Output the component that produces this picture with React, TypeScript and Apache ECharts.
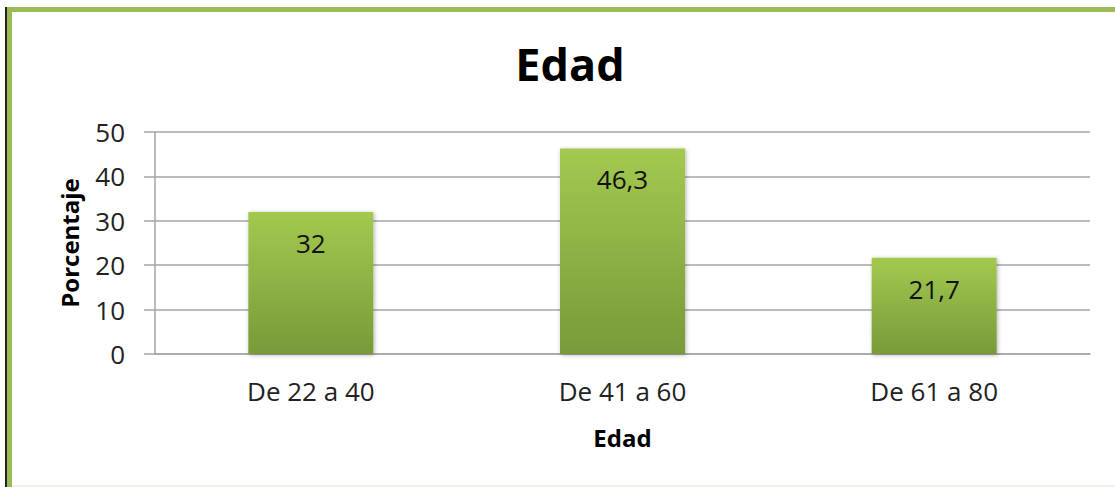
import React, { useEffect, useRef } from "react";
import * as echarts from "echarts";

const categories = ["De 22 a 40", "De 41 a 60", "De 61 a 80"];
const values = [32, 46.3, 21.7];
const labels = ["32", "46,3", "21,7"];
const yTicks = [0, 10, 20, 30, 40, 50];

export default function App() {
  const ref = useRef<HTMLDivElement>(null);
  useEffect(() => {
    if (!ref.current) return;
    const chart = echarts.init(ref.current, undefined, { renderer: "svg" });
    const font = "'Open Sans', 'Noto Sans', sans-serif";
    chart.setOption({
      animation: false,
      backgroundColor: "#ffffff",
      title: {
        text: "Edad",
        left: 565,
        top: 36,
        textAlign: "center",
        textStyle: { fontFamily: font, fontSize: 45, fontWeight: "bold", color: "#000" },
      },
      graphic: [
        { type: "rect", shape: { x: 7, y: 7, width: 1108, height: 5 }, style: { fill: "#9bbb59" } },
        { type: "rect", shape: { x: 7, y: 7, width: 5, height: 480 }, style: { fill: "#9bbb59" } },
        { type: "rect", shape: { x: 5, y: 7, width: 2, height: 480 }, style: { fill: "#222" } },
        { type: "rect", shape: { x: 12, y: 485, width: 1103, height: 2 }, style: { fill: "#eef3e2" } },
      ],
      grid: { left: 155, right: 25, top: 132, bottom: 133 },
      xAxis: {
        type: "category",
        data: categories,
        name: "Edad",
        nameLocation: "middle",
        nameGap: 71,
        nameTextStyle: { fontFamily: font, fontSize: 24, fontWeight: "bold", color: "#000" },
        axisLine: { show: true, lineStyle: { color: "#a6a6a6", width: 1.5 } },
        axisTick: { show: false },
        axisLabel: { fontFamily: font, fontSize: 26, color: "#222", margin: 24 },
      },
      yAxis: {
        type: "value",
        min: yTicks[0],
        max: yTicks[yTicks.length - 1],
        interval: 10,
        name: "Porcentaje",
        nameLocation: "middle",
        nameGap: 74,
        nameTextStyle: { fontFamily: font, fontSize: 24, fontWeight: "bold", color: "#000" },
        axisLine: { show: true, lineStyle: { color: "#a6a6a6", width: 1.5 } },
        axisTick: { show: true, inside: false, length: 11, lineStyle: { color: "#a6a6a6", width: 1.5 } },
        splitLine: { show: true, lineStyle: { color: "#a6a6a6", width: 1.5 } },
        axisLabel: { fontFamily: font, fontSize: 26, color: "#222", margin: 30 },
      },
      series: [
        {
          type: "bar",
          data: values,
          barWidth: 125,
          itemStyle: {
            color: new echarts.graphic.LinearGradient(0, 0, 0, 1, [
              { offset: 0, color: "#a3c950" },
              { offset: 1, color: "#789a39" },
            ]),
            shadowBlur: 4,
            shadowColor: "rgba(0,0,0,0.3)",
            shadowOffsetX: 1,
            shadowOffsetY: 1,
          },
          label: {
            show: true,
            position: "insideTop",
            distance: 18,
            formatter: (p: any) => labels[p.dataIndex],
            fontFamily: font,
            fontSize: 26,
            color: "#111",
          },
        },
      ],
    });
    return () => chart.dispose();
  }, []);
  return (
    <div
      ref={ref}
      style={{ position: "fixed", left: 0, top: 0, width: 1115, height: 487 }}
    />
  );
}
